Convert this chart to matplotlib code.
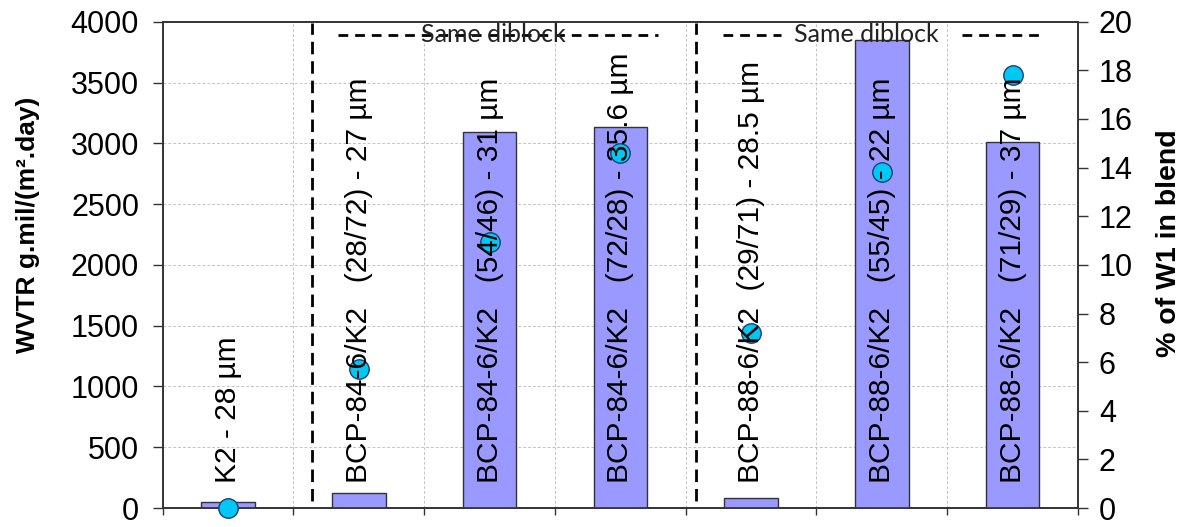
import matplotlib.pyplot as plt
import numpy as np

plt.rcParams['font.family'] = ['Liberation Sans', 'DejaVu Sans']

# bar labels, WVTR values (left axis) and % W1 (right axis, circles)
labels = [
    'K2 - 28 µm',
    'BCP-84-6/K2   (28/72) - 27 µm',
    'BCP-84-6/K2   (54/46) - 31 µm',
    'BCP-84-6/K2   (72/28) - 35.6 µm',
    'BCP-88-6/K2  (29/71) - 28.5 µm',
    'BCP-88-6/K2   (55/45) - 22 µm',
    'BCP-88-6/K2   (71/29) - 37 µm',
]
wvtr = [50, 125, 3090, 3135, 80, 3850, 3010]
w1_pct = [0.0, 5.7, 10.95, 14.6, 7.2, 13.8, 17.8]

# group separators and "Same diblock" brackets (x in category units)
sep_x = [0.64, 3.58]
bracket_segs = [(0.843, 3.288), (3.785, 4.228), (5.613, 6.228)]
bracket_text_x = [2.026, 4.879]

BAR_COLOR = '#9999ff'
EDGE = '#333333'
DOT = '#00c8f5'

fig = plt.figure(figsize=(11.85, 5.27), dpi=100)
ax = fig.add_axes([0.1373, 0.036, 0.7724, 0.9228])
ax2 = ax.twinx()

x = np.arange(len(labels))
ax.bar(x, wvtr, width=0.41, color=BAR_COLOR, edgecolor=EDGE, linewidth=1, zorder=3)

ax.set_xlim(-0.5, len(labels) - 0.5)
ax.set_ylim(0, 4000)
ax.set_xticks(np.arange(-0.5, len(labels), 1))
ax.set_xticklabels([])
ax.set_yticks(range(0, 4001, 500))
ax.set_axisbelow(True)
ax.grid(True, color='#c4c4c4', linestyle=(0, (3, 2)), linewidth=0.7)
ax.tick_params(axis='y', labelsize=22, length=7, width=1, pad=10, color=EDGE)
ax.tick_params(axis='x', length=5, width=1, color=EDGE)

# separators
ax.vlines(sep_x, 60, 3990, colors='black', linestyles=[(0, (4.5, 2.5))], linewidth=2, zorder=4)
for x0, x1 in bracket_segs:
    ax.plot([x0, x1], [3890, 3890], color='black', linestyle=(0, (3.5, 2.5)), linewidth=2, zorder=4)
for tx in bracket_text_x:
    ax.text(tx, 3830, 'Same diblock', ha='center', va='baseline', fontsize=18,
            family=['Lato', 'DejaVu Sans'], color='#222222', zorder=5)

# right axis markers
ax2.plot(x, w1_pct, 'o', markersize=14, markerfacecolor=DOT, markeredgecolor='#1f3f6f',
         markeredgewidth=1, clip_on=False, zorder=3)
ax2.set_ylim(0, 20)
ax2.set_yticks(range(0, 21, 2))
ax2.tick_params(axis='y', labelsize=22, length=7, width=1, pad=8, color=EDGE)

# bar labels drawn over markers
for xi, lab in zip(x, labels):
    ax2.text(xi, 205, lab, transform=ax.transData, rotation=90, ha='center', va='bottom',
             fontsize=21.5, zorder=6)

for a in (ax, ax2):
    for s in a.spines.values():
        s.set_color(EDGE)
        s.set_linewidth(1.2)

fig.text(28 / 1185, 1 - 225 / 527, 'WVTR g.mil/(m².day)', rotation=90, ha='center', va='center',
         fontsize=19, fontweight='bold')
fig.text(1169 / 1185, 1 - 243 / 527, '% of W1 in blend', rotation=90, ha='center', va='center',
         fontsize=20.5, fontweight='bold')

fig.savefig('out.png', dpi=100)
